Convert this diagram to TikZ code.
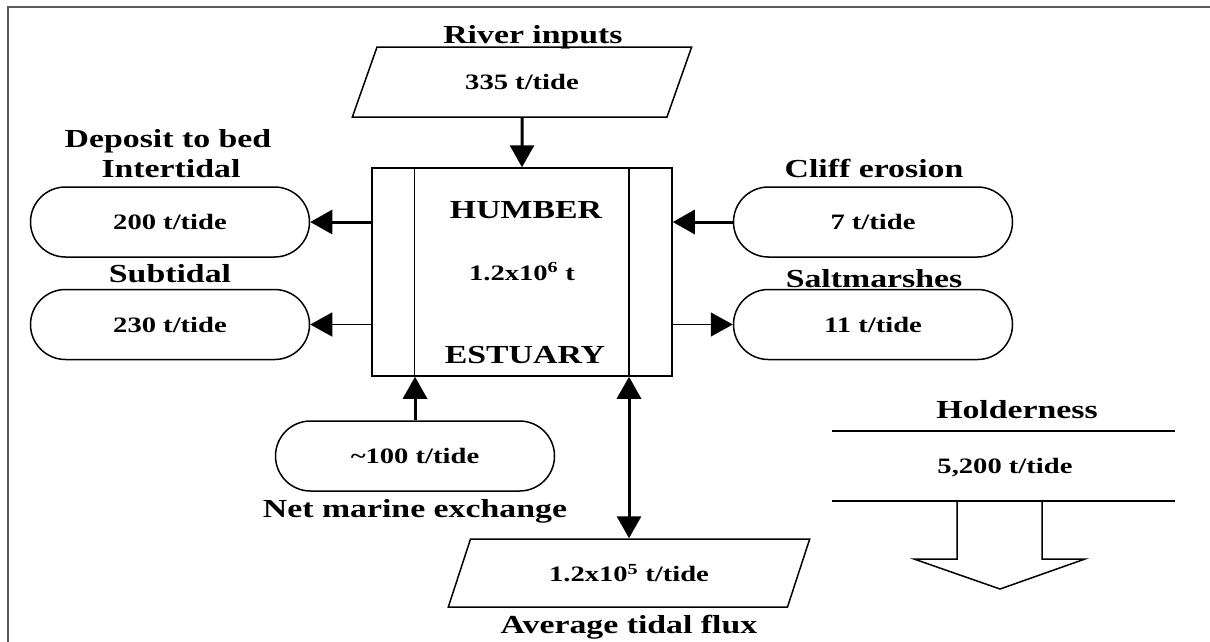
\documentclass[tikz,border=0pt]{standalone}
\usepackage{fontspec}
\setmainfont{Liberation Serif}[FakeStretch=1.3]
\usetikzlibrary{arrows.meta,shapes.geometric}

\newcommand{\lblfont}{\fontsize{26}{30}\selectfont\bfseries}
\newcommand{\valfont}{\fontsize{22}{26}\selectfont\bfseries}

\tikzset{
  lbl/.style={font=\lblfont, anchor=base, inner sep=0pt},
  val/.style={font=\valfont, anchor=base, inner sep=0pt},
  pill/.style={draw, line width=1.5pt, rounded corners=35pt, minimum width=279pt, minimum height=70pt, font=\valfont},
  para/.style={draw, line width=1.5pt, trapezium, trapezium left angle=58, trapezium right angle=122,
    trapezium stretches=true, minimum height=70pt, inner sep=0pt, font=\valfont},
  tip/.style={-{Triangle[length=22pt,width=24pt]}},
  bigflow/.style={line width=3pt, tip},
  smallflow/.style={line width=1.5pt, tip},
}

\begin{document}
\begin{tikzpicture}[x=1pt, y=-1pt]
  \useasboundingbox (0,0) rectangle (1210,641);
  \clip (0,0) rectangle (1210,641);
  \draw[black!65, line width=1.5pt] (8,7) rectangle (1240,680);

  % estuary box
  \node[draw, line width=1.5pt, minimum width=300pt, minimum height=208pt] (hum) at (522,272) {};
  \draw[line width=1.5pt] ([xshift=43pt]hum.north west) -- ([xshift=43pt]hum.south west);
  \draw[line width=1.5pt] ([xshift=-44pt]hum.north east) -- ([xshift=-44pt]hum.south east);
  \node[lbl] (humname) at (526,218) {HUMBER};
  \node[val] (humstock) at (522,280) {1.2x10\textsuperscript{6} t};
  \node[lbl] (humest) at (525,363) {ESTUARY};

  % inputs and outputs
  \node[para, minimum width=340pt] (river) at (522,82) {335 t/tide};
  \node[lbl] (riverlbl) at (533,43) {River inputs};

  \node[pill] (dep) at (170,222) {200 t/tide};
  \node[lbl] (deplbl) at (168,147) {Deposit to bed};
  \node[lbl] (intlbl) at (171,177) {Intertidal};
  \node[pill] (sub) at (170,324.5) {230 t/tide};
  \node[lbl] (sublbl) at (170,282) {Subtidal};

  \node[pill] (cliff) at (873,222) {7 t/tide};
  \node[lbl] (clifflbl) at (874,177) {Cliff erosion};
  \node[pill] (salt) at (873,324.5) {11 t/tide};
  \node[lbl] (saltlbl) at (874,287) {Saltmarshes};

  \node[pill] (net) at (415,456) {\textasciitilde100 t/tide};
  \node[lbl] (netlbl) at (415,517) {Net marine exchange};

  \node[para, minimum width=362pt, minimum height=68pt] (tid) at (629,573) {1.2x10\textsuperscript{5} t/tide};
  \node[lbl] (tidlbl) at (629,633) {Average tidal flux};

  % flows
  \draw[bigflow] (river.south) -- (hum.north);
  \draw[bigflow] (hum.west |- dep.east) -- (dep.east);
  \draw[smallflow] (hum.west |- sub.east) -- (sub.east);
  \draw[bigflow] (cliff.west) -- (cliff.west -| hum.east);
  \draw[smallflow] (salt.west -| hum.east) -- (salt.west);
  \draw[bigflow] (net.north) -- (net.north |- hum.south);
  \draw[line width=3pt, {Triangle[length=22pt,width=24pt]}-{Triangle[length=22pt,width=24pt]}]
    (tid.north |- hum.south) -- (tid.north);

  % holderness
  \node[lbl] (hold) at (1017,418) {Holderness};
  \node[val] (holdval) at (1005,473) {5,200 t/tide};
  \draw[line width=1.5pt] (832,431) -- (1175,431);
  \draw[line width=1.5pt] (832,501) -- (1175,501);
  \draw[line width=1.5pt] (957,501) -- (957,559) -- (914,559) -- (1000,589)
    -- (1085,559) -- (1042,559) -- (1042,501);
\end{tikzpicture}
\end{document}
